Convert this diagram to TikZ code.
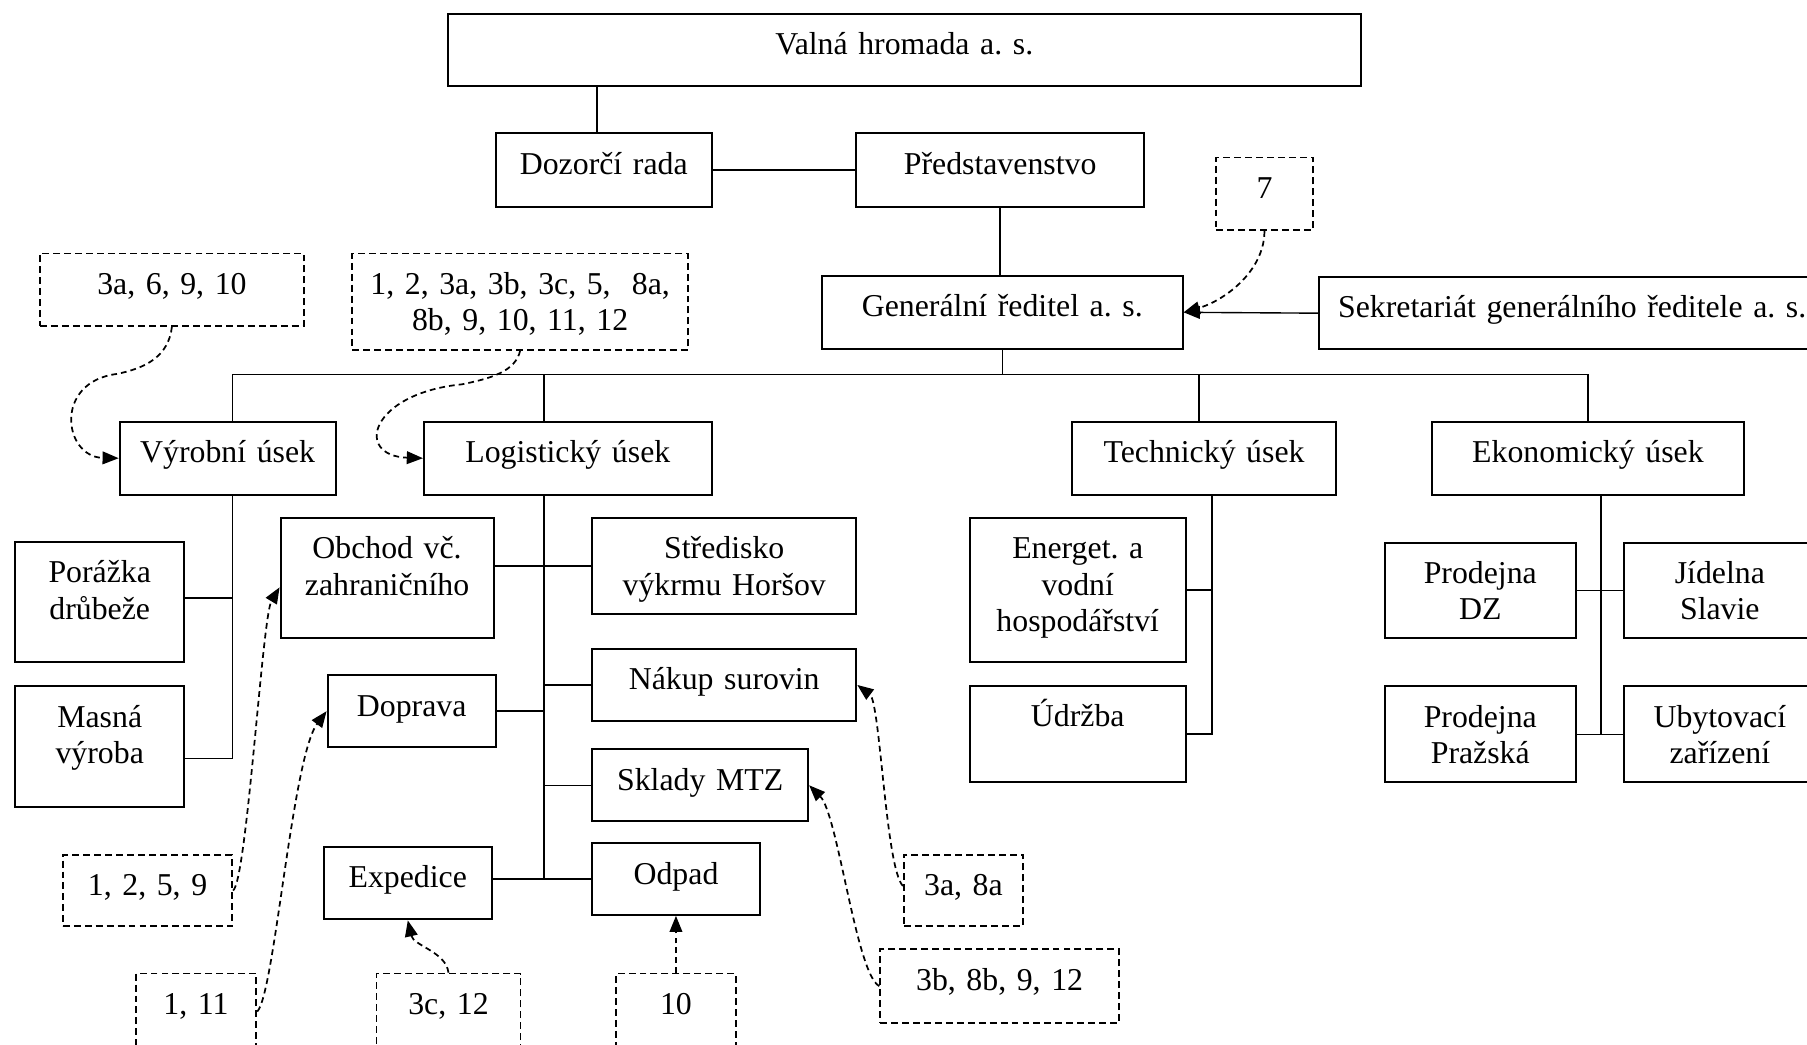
\documentclass[tikz,border=0pt]{standalone}
\usepackage{fontspec}
\setmainfont{Liberation Serif}
\usetikzlibrary{arrows.meta}
\frenchspacing
\tikzset{
  unit/.style={draw, line width=1.7pt, inner sep=0pt, anchor=north west,
    align=center, text height=35.5pt,
    font=\fontsize{27.6pt}{31.5pt}\selectfont},
  note/.style={unit, line width=1.5pt, dash pattern=on 6pt off 3.5pt},
  link/.style={line width=1.2pt},
  tip/.style={-{Triangle[length=14pt,width=11pt]}},
  ref/.style={tip, line width=1.5pt, dash pattern=on 5pt off 3.5pt},
}
\begin{document}
\begin{tikzpicture}[x=1pt,y=-1pt]
\useasboundingbox (0,0) rectangle (1568,906);
\clip (0,0) rectangle (1568,906);

% top management
\node[unit, text width=792.4pt, text depth=27.5pt] (valna) at (387.6,11) {Valná hromada a. s.};
\node[unit, text width=187.3pt, text depth=28.5pt] (dozorci) at (429.4,114.8) {Dozorčí rada};
\node[unit, text width=249.6pt, text depth=28.5pt] (predst) at (742.2,114.8) {Představenstvo};
\node[unit, text width=313.1pt, text depth=27.6pt] (gen) at (712.3,238.6) {Generální ředitel a. s.};
\node[unit, text width=439pt, text depth=27.3pt] (sekr) at (1143.9,239.5) {Sekretariát generálního ředitele a. s.};

% divisions
\node[unit, text width=187.4pt, text depth=28pt] (vyr) at (103,365) {Výrobní úsek};
\node[unit, text width=249.7pt, text depth=28pt] (log) at (367,365) {Logistický úsek};
\node[unit, text width=228.9pt, text depth=28pt] (tech) at (929.5,365) {Technický úsek};
\node[unit, text width=270.5pt, text depth=28pt] (ekon) at (1241.8,365) {Ekonomický úsek};

% production
\node[unit, text width=146.4pt, text depth=68.9pt] (porazka) at (12.5,469.4) {Porážka\\drůbeže};
\node[unit, text width=146.4pt, text depth=68.9pt] (masna) at (12.5,594.8) {Masná\\výroba};

% logistics
\node[unit, text width=184.8pt, text depth=68.9pt] (obchod) at (242.6,448.6) {Obchod vč.\\zahraničního};
\node[unit, text width=229.2pt, text depth=47.9pt] (stred) at (513,448.6) {Středisko\\výkrmu Horšov};
\node[unit, text width=146pt, text depth=27pt] (doprava) at (283.4,585) {Doprava};
\node[unit, text width=229.2pt, text depth=27.5pt] (nakup) at (513,562) {Nákup surovin};
\node[unit, text width=187.4pt, text depth=26.8pt] (sklady) at (513,649.4) {Sklady MTZ};
\node[unit, text width=146pt, text depth=27.6pt] (exped) at (280,733.8) {Expedice};
\node[unit, text width=145.5pt, text depth=26.5pt] (odpad) at (513,731) {Odpad};

% technical
\node[unit, text width=187.3pt, text depth=89.3pt] (energ) at (840.7,448.6) {Energet. a\\vodní\\hospodářství};
\node[unit, text width=187.3pt, text depth=48.3pt] (udrzba) at (840.7,594) {Údržba};

% economic
\node[unit, text width=166.1pt, text depth=47.5pt] (proddz) at (1200.6,470) {Prodejna\\DZ};
\node[unit, text width=166.2pt, text depth=47.5pt] (jidelna) at (1408.4,470) {Jídelna\\Slavie};
\node[unit, text width=166.1pt, text depth=47.5pt] (prodpr) at (1200.6,594.8) {Prodejna\\Pražská};
\node[unit, text width=166.2pt, text depth=47.5pt] (ubyt) at (1408.4,594.8) {Ubytovací\\zařízení};

% dashed reference boxes
\node[note, text width=229.1pt, text depth=27.3pt] (n1) at (33.9,219.2) {3a, 6, 9, 10};
\node[note, text width=291.4pt, text depth=48.1pt] (n2) at (304.9,219.2) {1, 2, 3a, 3b, 3c, 5,\ \ 8a,\\8b, 9, 10, 11, 12};
\node[note, text width=83.7pt, text depth=27.5pt] (n7) at (1054.6,136) {7};
\node[note, text width=147pt, text depth=26.5pt] (n1259) at (53.8,741) {1, 2, 5, 9};
\node[note, text width=104.7pt, text depth=30.5pt] (n111) at (117,844) {1, 11};
\node[note, text width=124.8pt, text depth=30.5pt] (n3c12) at (326,844) {3c, 12};
\node[note, text width=103.6pt, text depth=30.5pt] (n10) at (534,844) {10};
\node[note, text width=103.5pt, text depth=26.5pt] (n3a8a) at (783.5,741) {3a, 8a};
\node[note, text width=207.3pt, text depth=28.5pt] (n3b) at (763,822.9) {3b, 8b, 9, 12};

% management links
\coordinate (dtop) at ([xshift=-6pt]dozorci.north);
\draw[link] (dtop |- valna.south) -- (dtop);
\draw[link] (dozorci.east) -- (predst.west);
\draw[link] (predst.south) -- (predst.south |- gen.north);
\draw[link, tip] (sekr.west) -- (gen.east);

% bus to the divisions
\draw[link] (gen.south) -- ++(0,21.7) coordinate (bus);
\draw[link] ([xshift=4.1pt]vyr.north) |- (bus) -| (ekon.north);
\coordinate (ltop) at ([xshift=-20.65pt]log.north);
\draw[link] (ltop) -- (ltop |- bus);
\coordinate (ttop) at ([xshift=-4.45pt]tech.north);
\draw[link] (ttop) -- (ttop |- bus);

% production branch
\coordinate (vtrunk) at ([xshift=4.1pt]vyr.south);
\draw[link] (vtrunk) |- ([yshift=-10.2pt]masna.east);
\coordinate (pzk) at ([yshift=3.5pt]porazka.east);
\draw[link] (pzk) -- (pzk -| vtrunk);

% logistics branch
\coordinate (ltrunk) at ([xshift=-20.65pt]log.south);
\draw[link] (ltrunk) -- (ltrunk |- odpad.west);
\draw[link] (obchod.east |- stred.west) -- (stred.west);
\draw[link] (doprava.east) -- (doprava.east -| ltrunk);
\draw[link] (nakup.west) -- (nakup.west -| ltrunk);
\draw[link] (sklady.west) -- (sklady.west -| ltrunk);
\draw[link] (exped.east |- odpad.west) -- (odpad.west);

% technical branch
\coordinate (ttrunk) at ([xshift=7pt]tech.south);
\draw[link] (ttrunk) |- (udrzba.east);
\draw[link] (energ.east) -- (energ.east -| ttrunk);

% economic branch
\coordinate (etrunk) at ([xshift=11.25pt]ekon.south);
\draw[link] (etrunk) -- (etrunk |- prodpr.east);
\draw[link] (proddz.east) -- (jidelna.west);
\draw[link] (prodpr.east) -- (ubyt.west);

% dashed references
\draw[ref] (n1.south) .. controls +(-3,26) and +(25,-5) .. ++(-48,41)
  .. controls +(-55,7) and +(-48,-1) .. (vyr.west);
\draw[ref] (n2.south) .. controls +(-4,18) and +(25,-5) .. ++(-50.65,29.2)
  .. controls +(-80,8) and +(-60,-2) .. (log.west);
\draw[ref] (n1259.east) .. controls +(12,-10) and +(-15,25) .. ([yshift=-8pt]obchod.west);
\draw[ref] (n111.east) .. controls +(15,-15) and +(-30,40) .. (doprava.west);
\draw[ref] (n3c12.north) .. controls +(-2,-18) and +(5,22) .. (exped.south);
\draw[ref] (n10.north) -- (n10.north |- odpad.south);
\draw[ref] ([yshift=4pt]n3a8a.west) .. controls +(-15,-15) and +(20,15) .. (nakup.east);
\draw[ref] (n3b.west) .. controls +(-20,-10) and +(25,25) .. (sklady.east);
\draw[ref] (n7.south) .. controls +(0,35) and +(35,-10) .. (gen.east);
\end{tikzpicture}
\end{document}
